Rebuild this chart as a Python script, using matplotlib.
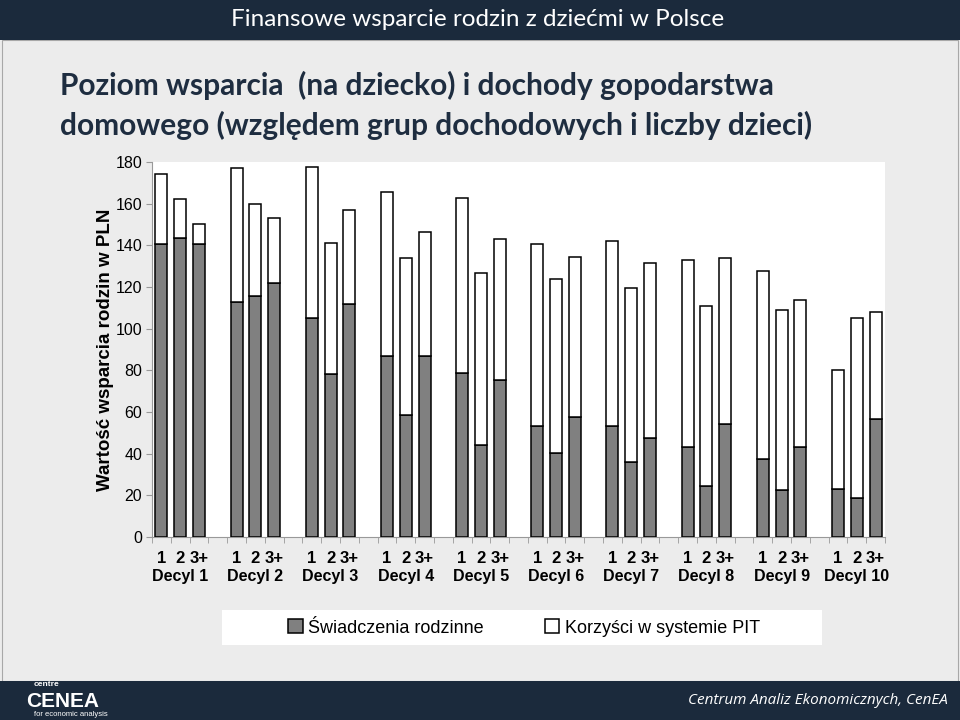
import matplotlib
matplotlib.use("Agg")
import matplotlib.pyplot as plt
from matplotlib.patches import Rectangle
from matplotlib.transforms import blended_transform_factory

# values, per decile: 1, 2, 3+ children
decyle = ["Decyl 1", "Decyl 2", "Decyl 3", "Decyl 4", "Decyl 5",
          "Decyl 6", "Decyl 7", "Decyl 8", "Decyl 9", "Decyl 10"]
dzieci = ["1", "2", "3+"]
swiadczenia = [
    [140.8, 143.4, 140.7],
    [112.8, 115.6, 121.8],
    [105.0, 78.1, 112.0],
    [86.9, 58.6, 86.9],
    [78.9, 44.3, 75.2],
    [53.1, 40.3, 57.8],
    [53.1, 35.9, 47.7],
    [43.1, 24.5, 54.4],
    [37.6, 22.6, 43.4],
    [23.2, 18.9, 56.8],
]
razem = [
    [174.4, 162.4, 150.3],
    [177.2, 160.0, 153.0],
    [177.6, 141.0, 157.0],
    [165.6, 134.1, 146.6],
    [162.6, 126.6, 143.1],
    [140.7, 124.0, 134.6],
    [141.9, 119.5, 131.5],
    [133.2, 110.9, 133.8],
    [127.7, 109.2, 113.8],
    [80.0, 105.1, 107.9],
]

NAVY = "#1b2a3c"
BG = "#ececec"
SANS = ["Liberation Sans", "DejaVu Sans"]

fig = plt.figure(figsize=(9.6, 7.2), dpi=100, facecolor=BG)

# slide body border, header / footer bands
fig.patches.append(Rectangle((2 / 960, 39 / 720), 956 / 960, 641 / 720, transform=fig.transFigure,
                             facecolor="none", edgecolor="#a8a8a8", linewidth=0.8, zorder=0))
fig.patches.append(Rectangle((0, 1 - 40 / 720), 1, 40 / 720, transform=fig.transFigure,
                             facecolor=NAVY, edgecolor="none", zorder=0))
fig.patches.append(Rectangle((0, 0), 1, 39 / 720, transform=fig.transFigure,
                             facecolor=NAVY, edgecolor="none", zorder=0))
# legend box
fig.patches.append(Rectangle((222 / 960, 1 - 645 / 720), 600 / 960, 35 / 720,
                             transform=fig.transFigure, facecolor="white",
                             edgecolor="none", zorder=0))

fig.text(478 / 960, 1 - 20 / 720, "Finansowe wsparcie rodzin z dziećmi w Polsce",
         color="white", fontsize=17.5, family=["Lato", "DejaVu Sans"],
         ha="center", va="center")
fig.text(60 / 960, 1 - 85 / 720, "Poziom wsparcia  (na dziecko) i dochody gopodarstwa",
         color="#1e2d40", fontsize=21.5, fontweight="bold", family=["Lato", "DejaVu Sans"],
         ha="left", va="center")
fig.text(60 / 960, 1 - 125 / 720, "domowego (względem grup dochodowych i liczby dzieci)",
         color="#1e2d40", fontsize=21.5, fontweight="bold", family=["Lato", "DejaVu Sans"],
         ha="left", va="center")

ax = fig.add_axes([152 / 960, 1 - 537 / 720, 733 / 960, 375 / 720])
ax.set_facecolor("white")

pos, dolne, gorne, etykiety = [], [], [], []
for g in range(len(decyle)):
    for k in range(3):
        pos.append(4 * g + k)
        dolne.append(swiadczenia[g][k])
        gorne.append(razem[g][k] - swiadczenia[g][k])
        etykiety.append(dzieci[k])

ax.bar(pos, dolne, width=0.64, color="#808080", edgecolor="black", linewidth=1.1,
       label="Świadczenia rodzinne", zorder=3)
ax.bar(pos, gorne, width=0.64, bottom=dolne, color="white", edgecolor="black",
       linewidth=1.1, label="Korzyści w systemie PIT", zorder=3)

ax.set_xlim(-0.5, 38.5)
ax.set_ylim(0, 180)
ax.set_yticks(range(0, 181, 20))
ax.set_xticks(pos)
ax.set_xticklabels(etykiety, fontsize=12, fontweight="bold", family=SANS)
ax.set_xticks([i + 0.5 for i in range(-1, 39)], minor=True)
ax.tick_params(axis="x", which="major", length=0, pad=10)
ax.tick_params(axis="x", which="minor", length=4, color="#999999")
ax.tick_params(axis="y", length=4, color="#999999", labelsize=11.5, pad=3)
for t in ax.get_yticklabels():
    t.set_family(SANS)
for s in ["top", "right"]:
    ax.spines[s].set_visible(False)
for s in ["left", "bottom"]:
    ax.spines[s].set_color("#999999")

tr = blended_transform_factory(ax.transData, fig.transFigure)
for g, name in enumerate(decyle):
    ax.text(4 * g + 1, 1 - 577 / 720, name, transform=tr, fontsize=11.5,
            fontweight="bold", family=SANS, ha="center", va="center")

ax.set_ylabel("Wartość wsparcia rodzin w PLN", fontsize=13.5, fontweight="bold",
              family=SANS, labelpad=1)

fig.legend(loc="center", bbox_to_anchor=(524 / 960, 1 - 628 / 720), ncol=2,
           frameon=False, prop={"family": SANS, "size": 13}, handlelength=0.8,
           handleheight=0.8, columnspacing=3.4, handletextpad=0.3)

# footer
fig.text(47 / 960, 1 - 684 / 720, "centre", color="white", fontsize=6,
         fontweight="bold", family=SANS, ha="center", va="center")
fig.text(63 / 960, 1 - 707 / 720, "CENEA", color="white", fontsize=15,
         fontweight="bold", family=SANS, ha="center", va="baseline")
fig.text(71 / 960, 1 - 714 / 720, "for economic analysis", color="white", fontsize=5.5,
         family=SANS, ha="center", va="center")
fig.text(948 / 960, 1 - 700 / 720, "Centrum Analiz Ekonomicznych, CenEA", color="white",
         fontsize=11, style="italic", family=["Open Sans", "DejaVu Sans"],
         ha="right", va="center")

fig.savefig("out.png", dpi=100, facecolor=BG)
